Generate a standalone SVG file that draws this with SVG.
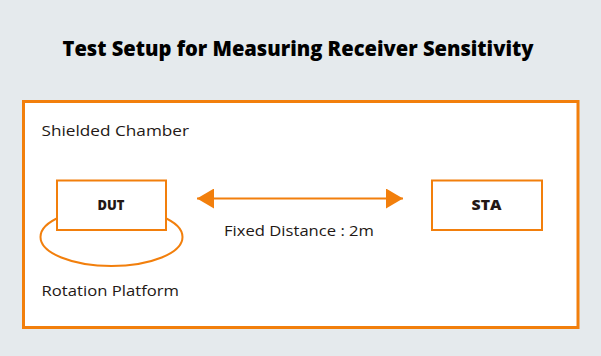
<svg xmlns="http://www.w3.org/2000/svg" width="601" height="356" viewBox="0 0 601 356">
<defs>
<style>
.bg{fill:#E5EAED}
.box{fill:#FFFFFF;stroke:#F27F0C;stroke-width:2}
.outer{fill:#FFFFFF;stroke:#F27F0C;stroke-width:3}
.plat{fill:none;stroke:#F27F0C;stroke-width:2}
.lbl{font-family:"Open Sans","DejaVu Sans",sans-serif;font-size:15px;fill:#231815}
.nodet{font-family:"Open Sans","DejaVu Sans",sans-serif;font-size:14px;font-weight:800;fill:#231815;text-anchor:middle}
.title{font-family:"Open Sans","Liberation Sans",sans-serif;font-size:21px;font-weight:800;fill:#000000}
.conn{stroke:#F27F0C;stroke-width:2;fill:none}
</style>
<marker id="ah" viewBox="0 0 17 20" refX="17" refY="10" markerWidth="17" markerHeight="20" markerUnits="userSpaceOnUse" orient="auto-start-reverse">
<path d="M0,0 L17,10 L0,20 Z" fill="#F27F0C"/>
</marker>
</defs>
<rect class="bg" x="0" y="0" width="601" height="356"/>
<text class="title" x="62.5" y="56" textLength="471" lengthAdjust="spacingAndGlyphs">Test Setup for Measuring Receiver Sensitivity</text>
<g id="chamber">
<rect class="outer" x="23.5" y="101.5" width="554.5" height="226"/>
<text class="lbl" x="41.5" y="136" textLength="147.5" lengthAdjust="spacingAndGlyphs">Shielded Chamber</text>
</g>
<g id="platform">
<ellipse class="plat" cx="111.5" cy="237" rx="71" ry="29"/>
<text class="lbl" x="41.5" y="296" textLength="137.5" lengthAdjust="spacingAndGlyphs">Rotation Platform</text>
</g>
<g id="dut">
<rect class="box" x="57" y="180.5" width="109" height="49.5"/>
<text class="nodet" x="111" y="210" textLength="27" lengthAdjust="spacingAndGlyphs">DUT</text>
</g>
<g id="sta">
<rect class="box" x="432" y="180.5" width="110" height="49.5"/>
<text class="nodet" x="486.5" y="210" textLength="30" lengthAdjust="spacingAndGlyphs">STA</text>
</g>
<g id="connectors">
<line class="conn" x1="197" y1="198.5" x2="403" y2="198.5" marker-start="url(#ah)" marker-end="url(#ah)"/>
<text class="lbl" x="224" y="236" textLength="150" lengthAdjust="spacingAndGlyphs">Fixed Distance : 2m</text>
</g>
</svg>
